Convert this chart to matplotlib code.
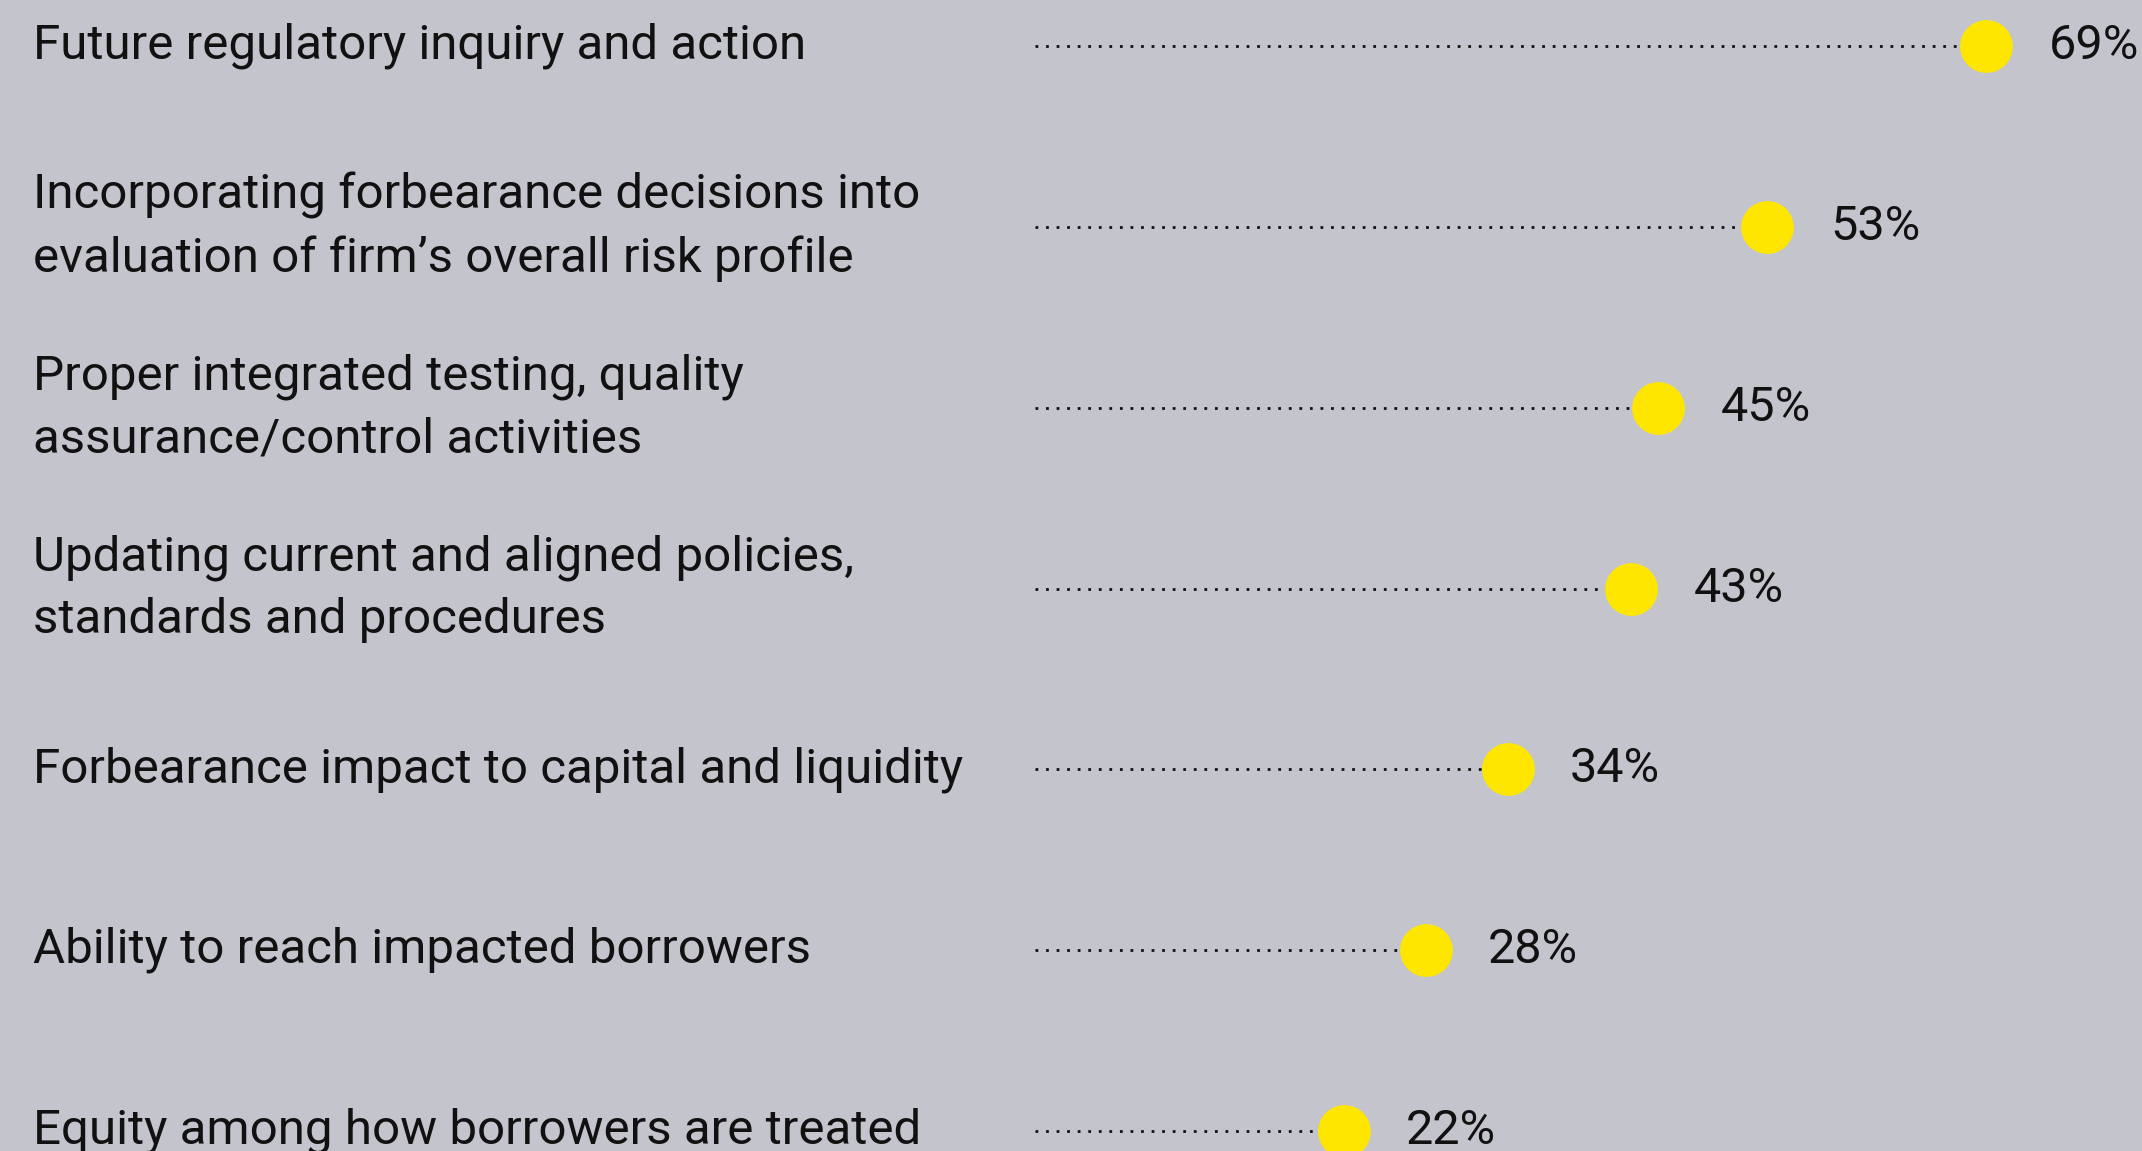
import matplotlib.pyplot as plt

# survey items and share of respondents
categories = [
    "Future regulatory inquiry and action",
    "Incorporating forbearance decisions into\nevaluation of firm\u2019s overall risk profile",
    "Proper integrated testing, quality\nassurance/control activities",
    "Updating current and aligned policies,\nstandards and procedures",
    "Forbearance impact to capital and liquidity",
    "Ability to reach impacted borrowers",
    "Equity among how borrowers are treated",
]
values = [69, 53, 45, 43, 34, 28, 22]
value_labels = ["69%", "53%", "45%", "43%", "34%", "28%", "22%"]

bg = "#c4c4cc"
yellow = "#ffe600"
ink = "#111111"
plt.rcParams['font.family'] = ['Roboto', 'DejaVu Sans']

fig = plt.figure(figsize=(21.42, 11.51), dpi=100, facecolor=bg)
ax = fig.add_axes([0, 0, 1, 1])
ax.set_facecolor(bg)

rows = list(range(len(categories)))
for i, v in enumerate(values):
    ax.plot([-0.6, v], [i, i], color=ink, lw=2.0, linestyle=(0, (1, 2.8)), zorder=1)
ax.scatter(values, rows, s=38**2, color=yellow, zorder=2, linewidths=0)

for i, (cat, lab) in enumerate(zip(categories, value_labels)):
    ax.text(0.0154, i, cat, transform=ax.get_yaxis_transform(), ha='left', va='center',
            fontsize=35.5, color=ink, linespacing=1.45)
    ax.annotate(lab, (values[i], i), xytext=(45, 0), textcoords='offset points',
                ha='left', va='center', fontsize=35, color=ink)

ax.set_xlim(-76.3, 80.4)
ax.set_ylim(6.11, -0.254)
ax.axis('off')

fig.savefig("out.png", dpi=100, facecolor=bg)
